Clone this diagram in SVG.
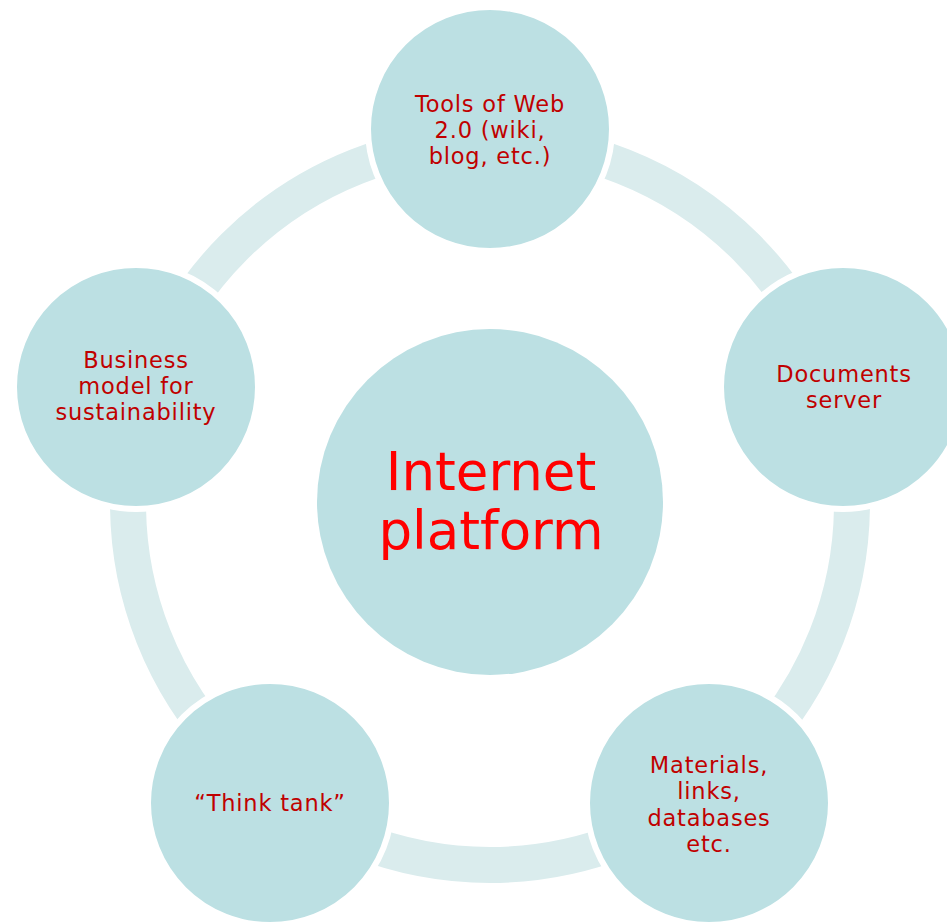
<svg xmlns="http://www.w3.org/2000/svg" width="947" height="923" viewBox="0 0 947 923">
<style>
.node{fill:#bce0e3;stroke:#ffffff;stroke-width:6}
.lbl{font-family:"DejaVu Sans",Verdana,sans-serif;font-size:22.5px;letter-spacing:0.8px;fill:#c00000;text-anchor:middle}
.big{font-family:"DejaVu Sans",Verdana,sans-serif;font-size:53px;fill:#ff0000;text-anchor:middle}
</style>
<rect width="947" height="923" fill="#ffffff"/>
<g id="connectors">
<circle cx="490" cy="503" r="362" fill="none" stroke="#daeced" stroke-width="36"/>
</g>
<g id="center">
<circle cx="490" cy="502" r="173" fill="#bce0e3"/>
<text class="big" x="491" y="490">Internet</text>
<text class="big" x="491" y="549">platform</text>
</g>
<g id="top">
<circle class="node" cx="490" cy="129" r="122"/>
<text class="lbl" x="490" y="112">Tools of Web</text>
<text class="lbl" x="490" y="138">2.0 (wiki,</text>
<text class="lbl" x="490" y="164">blog, etc.)</text>
</g>
<g id="right">
<circle class="node" cx="843" cy="387" r="122"/>
<text class="lbl" x="844" y="382">Documents</text>
<text class="lbl" x="844" y="408">server</text>
</g>
<g id="bottomright">
<circle class="node" cx="709" cy="803" r="122"/>
<text class="lbl" x="709" y="773">Materials,</text>
<text class="lbl" x="709" y="799">links,</text>
<text class="lbl" x="709" y="826">databases</text>
<text class="lbl" x="709" y="852">etc.</text>
</g>
<g id="bottomleft">
<circle class="node" cx="270" cy="803" r="122"/>
<text class="lbl" x="270" y="811">“Think tank”</text>
</g>
<g id="left">
<circle class="node" cx="136" cy="387" r="122"/>
<text class="lbl" x="136" y="368">Business</text>
<text class="lbl" x="136" y="394">model for</text>
<text class="lbl" x="136" y="420">sustainability</text>
</g>
</svg>
